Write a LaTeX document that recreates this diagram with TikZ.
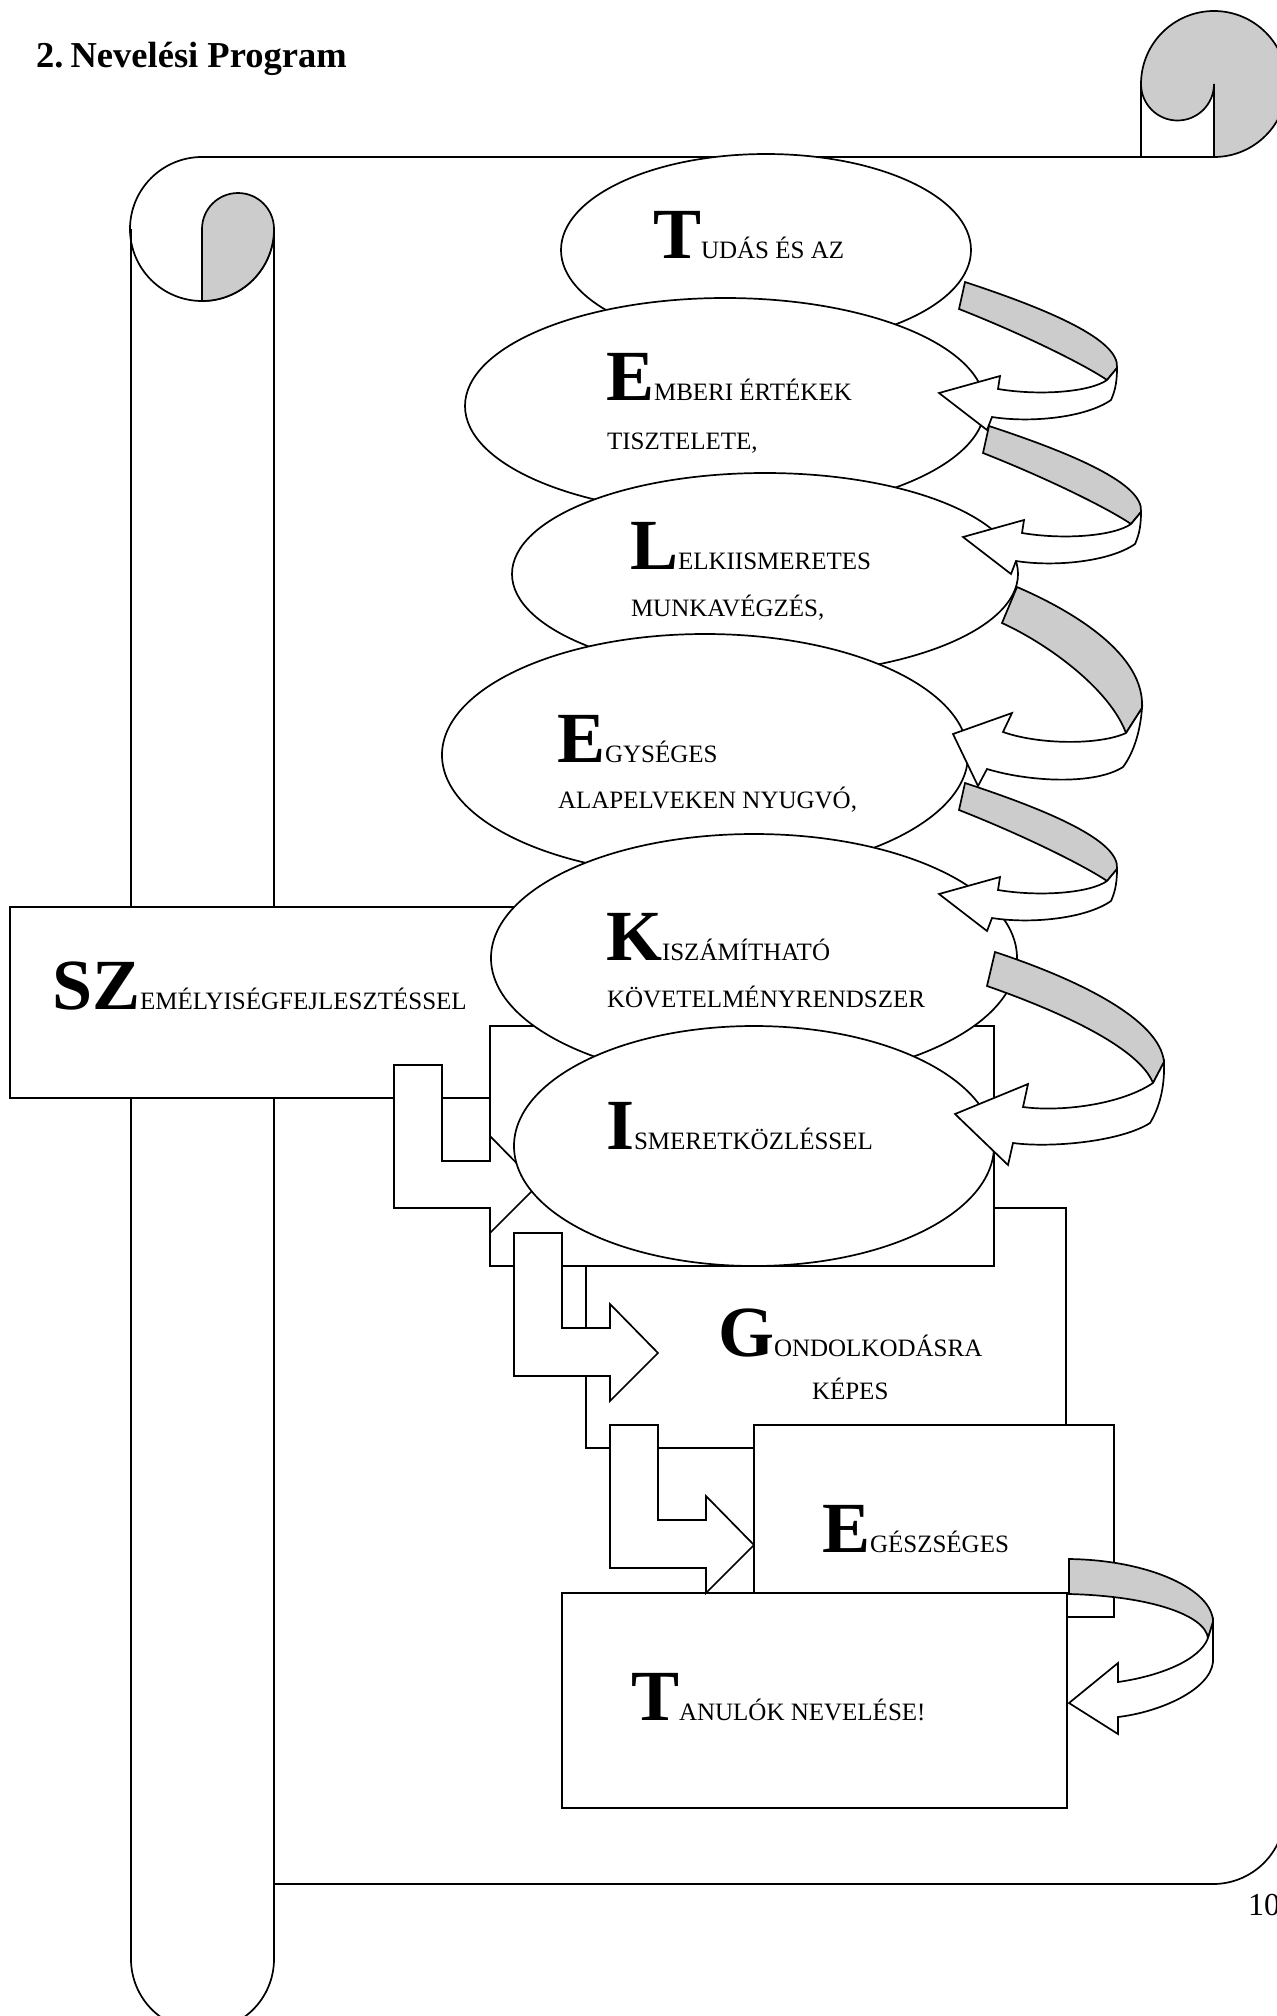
\documentclass[tikz,border=0pt]{standalone}
\usepackage{fontspec}
\setmainfont{Liberation Serif}
\definecolor{foldgray}{RGB}{204,204,204}
\tikzset{
  ln/.style={line width=1.7pt, line join=miter},
  wfill/.style={ln, fill=white},
  gfill/.style={ln, fill=foldgray},
  txt/.style={anchor=base west, inner sep=0pt, outer sep=0pt},
}
\newcommand{\biglet}[1]{{\fontsize{72}{72}\selectfont\bfseries #1}}
\newcommand{\smtxt}[1]{{\fontsize{25}{25}\selectfont #1}}
\begin{document}
\begin{tikzpicture}[x=1pt,y=-1pt]
\useasboundingbox (0,0) rectangle (1277,2016);
\fill[white] (0,0) rectangle (1277,2016);

% ---- scroll body ----
\draw[ln] (131,229) -- (131,1959) arc[start angle=180,end angle=0,radius=71.5] -- (274,229);
\draw[ln] (202,157) -- (1214,157);
\draw[ln] (274,1884) -- (1213,1884) arc[start angle=90,end angle=0,radius=72];
% left roll
\draw[ln] (202,157) arc[start angle=270,end angle=0,radius=72];
\filldraw[gfill] (202,229) -- (202,301) arc[start angle=90,end angle=0,radius=72]
   arc[start angle=0,end angle=-180,radius=36] -- cycle;
% top right curl
\filldraw[gfill] (1141,84) arc[start angle=180,end angle=450,radius=73] -- (1214,84)
   arc[start angle=0,end angle=180,radius=36.5] -- cycle;
\draw[ln] (1141,84) -- (1141,157);

% ---- title and page number ----
\node[txt] (title) at (36,67) {\fontsize{36.5}{36.5}\selectfont\bfseries 2.\hspace{0.2em}Nevelési Program};
\node[txt] (pg) at (1248,1915) {\fontsize{32}{32}\selectfont 10};

% ---- rectangles ----
\filldraw[wfill] (10,907) rectangle (560,1098);
\filldraw[wfill] (586,1208) rectangle (1066,1448);
\filldraw[wfill] (490,1026) rectangle (994,1266);
\filldraw[wfill] (754,1425) rectangle (1114,1617);
\filldraw[wfill] (562,1593) rectangle (1067,1808);

% ---- ellipses ----
\filldraw[wfill] (766,250) ellipse [x radius=205, y radius=96];
\filldraw[wfill] (725,406) ellipse [x radius=260, y radius=108];
\filldraw[wfill] (765,574) ellipse [x radius=253, y radius=101];
\filldraw[wfill] (705,755) ellipse [x radius=263, y radius=121];
\filldraw[wfill] (754,958) ellipse [x radius=263, y radius=124];

% block arrow 1
\filldraw[wfill] (394,1065) -- (442,1065) -- (442,1161) -- (490,1161) -- (490,1136) -- (538,1185)
   -- (490,1233) -- (490,1208) -- (394,1208) -- cycle;

\filldraw[wfill] (754,1146) ellipse [x radius=240, y radius=120];

% block arrows 2,3
\filldraw[wfill] (514,1233) -- (562,1233) -- (562,1328) -- (610,1328) -- (610,1304) -- (658,1353)
   -- (610,1401) -- (610,1376) -- (514,1376) -- cycle;
\filldraw[wfill] (610,1425) -- (658,1425) -- (658,1520) -- (706,1520) -- (706,1496) -- (754,1545)
   -- (706,1593) -- (706,1568) -- (610,1568) -- cycle;

% ---- curved arrows ----
\foreach \dx/\dy in {0/0, 24/144, 0/501}{
\begin{scope}[shift={(\dx,\dy)}]
\filldraw[gfill] (965,282) .. controls (1050,310) and (1120,340) .. (1117,368) -- (1107,380)
   .. controls (1085,365) and (1025,335) .. (959,309) -- cycle;
\filldraw[wfill] (1117,368) .. controls (1117,385) and (1114,393) .. (1111,400)
   .. controls (1085,418) and (1030,423) .. (992,417) -- (987,430) -- (939,393) -- (1000,376)
   -- (998,389) .. controls (1040,396) and (1090,392) .. (1107,380) -- cycle;
\end{scope}}

\filldraw[gfill] (1017,587) .. controls (1075,612) and (1145,655) .. (1142,708) -- (1126,733)
   .. controls (1110,690) and (1050,645) .. (1002,623) -- cycle;
\filldraw[wfill] (1142,708) .. controls (1140,735) and (1132,755) .. (1123,767)
   .. controls (1095,785) and (1030,782) .. (987,769) -- (978,786) -- (953,734) -- (1012,713)
   -- (1003,732) .. controls (1040,745) and (1100,745) .. (1126,733) -- cycle;

\filldraw[gfill] (995,952) .. controls (1080,980) and (1160,1020) .. (1164,1062) -- (1153,1083)
   .. controls (1140,1050) and (1070,1015) .. (987,986) -- cycle;
\filldraw[wfill] (1164,1062) .. controls (1165,1090) and (1158,1110) .. (1150,1123)
   .. controls (1120,1142) and (1050,1148) .. (1013,1143) -- (1008,1165) -- (955,1114) -- (1028,1084)
   -- (1023,1107) .. controls (1060,1112) and (1120,1105) .. (1153,1083) -- cycle;

\filldraw[gfill] (1069,1559) .. controls (1150,1560) and (1213,1590) .. (1213,1622) -- (1208,1638)
   .. controls (1205,1615) and (1150,1596) .. (1069,1594) -- cycle;
\filldraw[wfill] (1213,1622) -- (1213,1662) .. controls (1210,1690) and (1160,1712) .. (1118,1717)
   -- (1118,1734) -- (1069,1703) -- (1118,1663) -- (1118,1682)
   .. controls (1160,1676) and (1200,1660) .. (1208,1638) -- cycle;

% ---- texts ----
\node[txt] (t1) at (653,258) {\biglet{T}\smtxt{UDÁS ÉS AZ}};
\node[txt] (e1) at (606,400) {\biglet{E}\smtxt{MBERI ÉRTÉKEK}};
\node[txt] (e1b) at (607,449) {\smtxt{TISZTELETE,}};
\node[txt] (l1) at (630,569) {\biglet{L}\smtxt{ELKIISMERETES}};
\node[txt] (l1b) at (631,616) {\smtxt{MUNKAVÉGZÉS,}};
\node[txt] (e2) at (557,762) {\biglet{E}\smtxt{GYSÉGES}};
\node[txt] (e2b) at (558,808) {\smtxt{ALAPELVEKEN NYUGVÓ,}};
\node[txt] (k1) at (606,960) {\biglet{K}\smtxt{ISZÁMÍTHATÓ}};
\node[txt] (k1b) at (607,1007) {\smtxt{KÖVETELMÉNYRENDSZER}};
\node[txt] (i1) at (606,1149) {\biglet{I}\smtxt{SMERETKÖZLÉSSEL}};
\node[txt] (sz) at (52,1009) {\biglet{SZ}\smtxt{EMÉLYISÉGFEJLESZTÉSSEL}};
\node[txt] (g1) at (718,1356) {\biglet{G}\smtxt{ONDOLKODÁSRA}};
\node[txt] (g1b) at (812,1399) {\smtxt{KÉPES}};
\node[txt] (e3) at (822,1552) {\biglet{E}\smtxt{GÉSZSÉGES}};
\node[txt] (t2) at (631,1720) {\biglet{T}\smtxt{ANULÓK NEVELÉSE!}};
\end{tikzpicture}
\end{document}
